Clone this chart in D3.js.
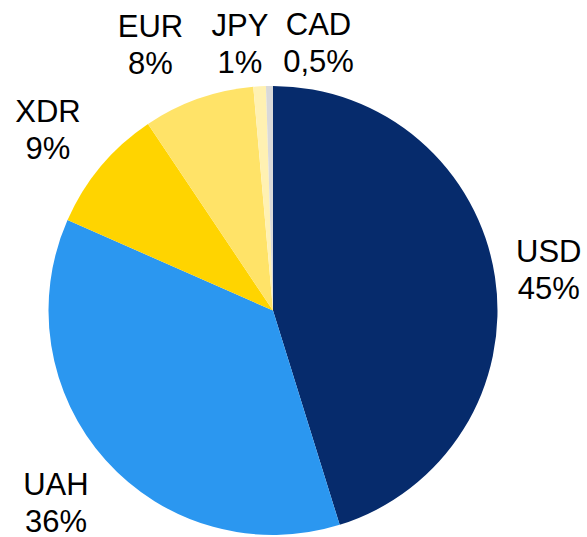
<!DOCTYPE html>
<html>
<head>
<meta charset="utf-8">
<script src="https://cdn.jsdelivr.net/npm/d3@7"></script>
<style>
  html, body { margin: 0; padding: 0; background: #fff; }
</style>
</head>
<body>
<div id="chart"></div>
<script>
// currency shares, clockwise from 12 o'clock
const currencies = ['USD', 'UAH', 'XDR', 'EUR', 'JPY', 'CAD']
const shares = [45.2, 36.4, 9.0, 8.0, 0.9, 0.5]
const shareLabels = ['45%', '36%', '9%', '8%', '1%', '0,5%']
const sliceColors = ['#062b6c', '#2b97f0', '#ffd400', '#ffe368', '#fff1b2', '#d9d9d9']

const width = 587
const height = 537
const cx = 273
const cy = 310.5
const radius = 224.5
const labelRadius = 287
// hand nudges so labels sit where the original put them (px)
const labelNudge = {
  USD: [-8, 2],
  UAH: [-3, 1],
  XDR: [-5, 3],
  EUR: [-27, 5],
  JPY: [-16, 19],
  CAD: [50, 19]
}

const data = currencies.map((c, i) => ({ name: c, value: shares[i], label: shareLabels[i] }))

const color = d3.scaleOrdinal().domain(currencies).range(sliceColors)

const pie = d3.pie().sort(null).value(d => d.value)
const arc = d3.arc().innerRadius(0).outerRadius(radius)
const labelArc = d3.arc().innerRadius(labelRadius).outerRadius(labelRadius)

const svg = d3.select('#chart').append('svg')
  .attr('width', width)
  .attr('height', height)

const g = svg.append('g').attr('transform', `translate(${cx},${cy})`)

const arcs = pie(data)

g.append('g')
  .selectAll('path')
  .data(arcs)
  .join('path')
  .attr('d', arc)
  .attr('fill', d => color(d.data.name))

const labels = g.append('g')
  .style('font', '31px "Liberation Sans", Arial, sans-serif')
  .attr('fill', '#000')
  .attr('text-anchor', 'middle')
  .selectAll('text')
  .data(arcs)
  .join('text')
  .attr('transform', d => {
    const [x, y] = labelArc.centroid(d)
    const [dx, dy] = labelNudge[d.data.name] || [0, 0]
    return `translate(${x + dx},${y + dy})`
  })

labels.append('tspan')
  .attr('x', 0)
  .attr('y', -7.5)
  .text(d => d.data.name)

labels.append('tspan')
  .attr('x', 0)
  .attr('y', 29.5)
  .text(d => d.data.label)
</script>
</body>
</html>
